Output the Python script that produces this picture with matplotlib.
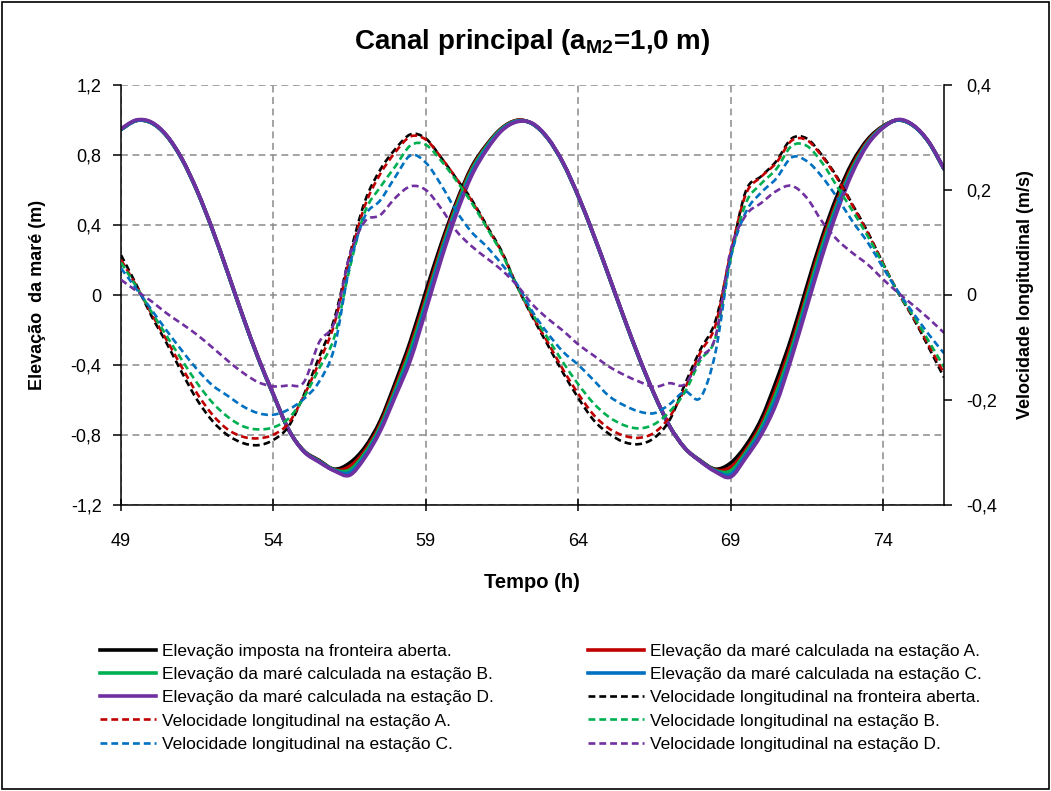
import numpy as np
import matplotlib.pyplot as plt
from matplotlib.ticker import FuncFormatter, MultipleLocator, FixedLocator
from matplotlib.patches import Rectangle, PathPatch
from matplotlib.path import Path
from matplotlib.lines import Line2D

plt.rcParams['font.family'] = ['Liberation Sans', 'DejaVu Sans']
plt.rcParams['axes.unicode_minus'] = False
plt.rcParams['mathtext.fontset'] = 'custom'
plt.rcParams['mathtext.rm'] = 'Liberation Sans'
plt.rcParams['mathtext.bf'] = 'Liberation Sans:bold'

# tempo (h), de meia em meia hora
tempo = [49.0, 49.5, 50.0, 50.5, 51.0, 51.5, 52.0, 52.5, 53.0, 53.5,
         54.0, 54.5, 55.0, 55.5, 56.0, 56.5, 57.0, 57.5, 58.0, 58.5,
         59.0, 59.5, 60.0, 60.5, 61.0, 61.5, 62.0, 62.5, 63.0, 63.5,
         64.0, 64.5, 65.0, 65.5, 66.0, 66.5, 67.0, 67.5, 68.0, 68.5,
         69.0, 69.5, 70.0, 70.5, 71.0, 71.5, 72.0, 72.5, 73.0, 73.5,
         74.0, 74.5, 75.0, 75.5, 76.0]

# elevacao da mare (m)
elev_fronteira = [0.946, 0.997, 0.984, 0.909, 0.776, 0.593, 0.373, 0.128, -0.124, -0.360,
                  -0.570, -0.770, -0.890, -0.945, -0.995, -0.960, -0.870, -0.720, -0.500, -0.260,
                  0.020, 0.290, 0.530, 0.730, 0.860, 0.955, 0.998, 0.978, 0.895, 0.755,
                  0.565, 0.345, 0.110, -0.130, -0.360, -0.570, -0.750, -0.875, -0.945, -0.995,
                  -0.960, -0.860, -0.710, -0.490, -0.240, 0.050, 0.330, 0.570, 0.760, 0.890,
                  0.965, 1.000, 0.967, 0.873, 0.720]
elev_a = [0.946, 0.997, 0.984, 0.909, 0.776, 0.593, 0.373, 0.128, -0.124, -0.360,
          -0.570, -0.770, -0.892, -0.948, -1.000, -0.980, -0.890, -0.740, -0.525, -0.290,
          -0.015, 0.265, 0.515, 0.720, 0.855, 0.952, 0.998, 0.978, 0.895, 0.755,
          0.565, 0.345, 0.110, -0.130, -0.360, -0.570, -0.750, -0.875, -0.947, -1.000,
          -0.985, -0.885, -0.740, -0.530, -0.280, 0.010, 0.300, 0.540, 0.740, 0.880,
          0.962, 1.000, 0.967, 0.873, 0.720]
elev_b = [0.946, 0.997, 0.984, 0.909, 0.776, 0.593, 0.373, 0.128, -0.124, -0.360,
          -0.570, -0.770, -0.893, -0.950, -1.000, -1.000, -0.905, -0.755, -0.545, -0.315,
          -0.040, 0.245, 0.500, 0.710, 0.850, 0.950, 0.995, 0.978, 0.895, 0.755,
          0.565, 0.345, 0.110, -0.130, -0.360, -0.570, -0.750, -0.875, -0.948, -1.003,
          -1.005, -0.900, -0.760, -0.560, -0.310, -0.015, 0.275, 0.520, 0.725, 0.872,
          0.960, 1.000, 0.967, 0.873, 0.720]
elev_c = [0.946, 0.997, 0.984, 0.909, 0.776, 0.593, 0.373, 0.128, -0.124, -0.360,
          -0.570, -0.770, -0.894, -0.952, -1.003, -1.015, -0.920, -0.770, -0.565, -0.345,
          -0.065, 0.225, 0.480, 0.695, 0.840, 0.945, 0.993, 0.978, 0.895, 0.755,
          0.565, 0.345, 0.110, -0.130, -0.360, -0.570, -0.750, -0.875, -0.949, -1.006,
          -1.025, -0.915, -0.780, -0.590, -0.340, -0.045, 0.245, 0.500, 0.710, 0.865,
          0.957, 1.000, 0.967, 0.873, 0.720]
elev_d = [0.950, 1.000, 0.988, 0.912, 0.779, 0.596, 0.376, 0.131, -0.121, -0.357,
          -0.567, -0.770, -0.895, -0.955, -1.005, -1.030, -0.930, -0.780, -0.580, -0.370,
          -0.090, 0.200, 0.460, 0.680, 0.830, 0.940, 0.990, 0.981, 0.898, 0.758,
          0.568, 0.348, 0.113, -0.127, -0.357, -0.567, -0.750, -0.875, -0.950, -1.010,
          -1.040, -0.930, -0.800, -0.620, -0.360, -0.070, 0.220, 0.480, 0.700, 0.860,
          0.955, 1.003, 0.970, 0.876, 0.723]

# velocidade longitudinal (m/s)
vel_fronteira = [0.076, 0.020, -0.040, -0.092, -0.148, -0.200, -0.240, -0.267, -0.282, -0.286,
                 -0.276, -0.250, -0.190, -0.118, -0.045, 0.075, 0.178, 0.238, 0.278, 0.306,
                 0.298, 0.262, 0.222, 0.182, 0.132, 0.082, 0.016, -0.042, -0.095, -0.148,
                 -0.196, -0.238, -0.264, -0.280, -0.284, -0.272, -0.238, -0.170, -0.105, -0.050,
                 0.075, 0.198, 0.226, 0.255, 0.298, 0.298, 0.266, 0.224, 0.172, 0.120,
                 0.060, 0.004, -0.045, -0.100, -0.157]
vel_a = [0.067, 0.018, -0.036, -0.086, -0.138, -0.188, -0.228, -0.256, -0.270, -0.273,
         -0.266, -0.244, -0.192, -0.128, -0.055, 0.068, 0.170, 0.230, 0.272, 0.302,
         0.296, 0.262, 0.222, 0.180, 0.130, 0.080, 0.016, -0.040, -0.090, -0.142,
         -0.188, -0.228, -0.254, -0.268, -0.272, -0.262, -0.232, -0.178, -0.110, -0.058,
         0.080, 0.192, 0.225, 0.252, 0.294, 0.295, 0.264, 0.222, 0.170, 0.118,
         0.060, 0.004, -0.043, -0.096, -0.149]
vel_b = [0.062, 0.016, -0.032, -0.078, -0.124, -0.168, -0.205, -0.232, -0.250, -0.256,
         -0.252, -0.235, -0.195, -0.140, -0.080, 0.050, 0.158, 0.205, 0.245, 0.285,
         0.286, 0.256, 0.218, 0.176, 0.128, 0.078, 0.016, -0.036, -0.082, -0.128,
         -0.170, -0.206, -0.232, -0.248, -0.254, -0.246, -0.222, -0.185, -0.125, -0.082,
         0.070, 0.175, 0.212, 0.240, 0.284, 0.284, 0.252, 0.206, 0.160, 0.112,
         0.058, 0.004, -0.040, -0.088, -0.137]
vel_c = [0.051, 0.012, -0.028, -0.068, -0.106, -0.142, -0.172, -0.192, -0.212, -0.225,
         -0.228, -0.218, -0.198, -0.165, -0.100, 0.055, 0.150, 0.180, 0.225, 0.266,
         0.252, 0.210, 0.160, 0.120, 0.092, 0.058, 0.020, -0.032, -0.073, -0.108,
         -0.133, -0.162, -0.192, -0.210, -0.222, -0.225, -0.208, -0.184, -0.196, -0.110,
         0.070, 0.158, 0.195, 0.222, 0.262, 0.255, 0.225, 0.185, 0.140, 0.100,
         0.052, 0.006, -0.035, -0.075, -0.111]
vel_d = [0.029, 0.008, -0.012, -0.035, -0.055, -0.076, -0.100, -0.125, -0.148, -0.166,
         -0.174, -0.172, -0.166, -0.090, -0.052, 0.075, 0.140, 0.152, 0.185, 0.207,
         0.200, 0.165, 0.122, 0.093, 0.070, 0.047, 0.018, -0.018, -0.045, -0.068,
         -0.094, -0.115, -0.136, -0.152, -0.165, -0.175, -0.168, -0.170, -0.120, -0.080,
         0.085, 0.152, 0.175, 0.198, 0.208, 0.185, 0.140, 0.105, 0.080, 0.058,
         0.030, 0.004, -0.020, -0.045, -0.072]

cores = ['#000000', '#C00000', '#00B050', '#0070C0', '#7030A0']
elevacoes = [elev_fronteira, elev_a, elev_b, elev_c, elev_d]
velocidades = [vel_fronteira, vel_a, vel_b, vel_c, vel_d]
nomes_elev = ['Elevação imposta na fronteira aberta.',
              'Elevação da maré calculada na estação A.',
              'Elevação da maré calculada na estação B.',
              'Elevação da maré calculada na estação C.',
              'Elevação da maré calculada na estação D.']
nomes_vel = ['Velocidade longitudinal na fronteira aberta.',
             'Velocidade longitudinal na estação A.',
             'Velocidade longitudinal na estação B.',
             'Velocidade longitudinal na estação C.',
             'Velocidade longitudinal na estação D.']

TRACO = (0, (2.6, 1.5))


def curva_suave(ax, x, y, **kw):
    """Linha suavizada (estilo Excel): Bezier cubica a passar pelos pontos."""
    x = np.asarray(x, float)
    y = np.asarray(y, float)
    n = len(x)
    verts = [(x[0], y[0])]
    codes = [Path.MOVETO]
    for i in range(n - 1):
        i0 = max(i - 1, 0)
        i3 = min(i + 2, n - 1)
        c1 = (x[i] + (x[i + 1] - x[i0]) / 6, y[i] + (y[i + 1] - y[i0]) / 6)
        c2 = (x[i + 1] - (x[i3] - x[i]) / 6, y[i + 1] - (y[i3] - y[i]) / 6)
        verts += [c1, c2, (x[i + 1], y[i + 1])]
        codes += [Path.CURVE4] * 3
    p = PathPatch(Path(verts, codes), fill=False, transform=ax.transData, **kw)
    ax.add_patch(p)
    return p


W, H = 1051, 791
fig = plt.figure(figsize=(W / 100, H / 100), dpi=100)
ax = fig.add_axes([121 / W, 1 - 505 / H, (944 - 121) / W, (505 - 85) / H])
ax2 = ax.twinx()

proxy_elev = []
for y, c, nome in zip(elevacoes, cores, nomes_elev):
    curva_suave(ax, tempo, y, ec=c, lw=2.6, capstyle='round', joinstyle='round')
    proxy_elev.append(Line2D([], [], color=c, lw=2.6, label=nome))

proxy_vel = []
for y, c, nome in zip(velocidades, cores, nomes_vel):
    curva_suave(ax2, tempo, y, ec=c, lw=1.9, linestyle=TRACO)
    proxy_vel.append(Line2D([], [], color=c, lw=1.9, linestyle=TRACO, label=nome))

ax.set_xlim(49, 76)
ax.set_ylim(-1.2, 1.2)
ax2.set_ylim(-0.4, 0.4)

virgula = FuncFormatter(lambda v, p: '0' if abs(v) < 1e-9 else ('%.1f' % v).replace('.', ','))
ax.xaxis.set_major_locator(FixedLocator([49, 54, 59, 64, 69, 74]))
ax.yaxis.set_major_locator(MultipleLocator(0.4))
ax.yaxis.set_major_formatter(virgula)
ax2.yaxis.set_major_locator(MultipleLocator(0.2))
ax2.yaxis.set_major_formatter(virgula)

grelha = dict(color='#8a8a8a', lw=1.1, linestyle=(0, (4.5, 3.0)))
ax.grid(True, axis='both', **grelha)
ax.set_axisbelow(True)

for a in (ax, ax2):
    a.spines['top'].set_visible(False)
    for s in a.spines.values():
        s.set_linewidth(1.1)
ax.spines['right'].set_visible(False)
ax2.spines['left'].set_visible(False)
ax2.spines['bottom'].set_visible(False)

ax.tick_params(axis='y', direction='out', length=6, width=1.1, labelsize=13, pad=8)
ax.tick_params(axis='x', direction='inout', length=9, width=1.1, labelsize=13, pad=16)
ax2.tick_params(axis='y', direction='out', length=6, width=1.1, labelsize=13, pad=10)

fig.text(532 / W, 1 - 42 / H, r'Canal principal (a$_{\mathbf{M2}}$=1,0 m)',
         ha='center', va='center', fontsize=20, fontweight='bold')
fig.text(38 / W, 1 - 295 / H, 'Elevação  da maré (m)', rotation=90,
         ha='center', va='center', fontsize=13, fontweight='bold')
fig.text(1025 / W, 1 - 295 / H, 'Velocidade longitudinal (m/s)', rotation=90,
         ha='center', va='center', fontsize=13, fontweight='bold')
fig.text(532 / W, 1 - 583 / H, 'Tempo (h)', ha='center', va='center',
         fontsize=14.5, fontweight='bold')

# legenda em duas colunas, lida linha a linha
todas = proxy_elev + proxy_vel
col_esq = todas[0::2]
col_dir = todas[1::2]
opts = dict(loc='upper left', frameon=False, fontsize=12.5, handlelength=3.2,
            handletextpad=0.35, labelspacing=0.46, borderpad=0, borderaxespad=0)
fig.legend(handles=col_esq, bbox_to_anchor=(100 / W, 1 - 644 / H), **opts)
fig.legend(handles=col_dir, bbox_to_anchor=(588 / W, 1 - 644 / H), **opts)

fig.patches.append(Rectangle((2 / W, 2 / H), 1 - 4 / W, 1 - 4 / H, transform=fig.transFigure,
                             fill=False, ec='black', lw=1.2))

fig.savefig('out.png', dpi=100)
